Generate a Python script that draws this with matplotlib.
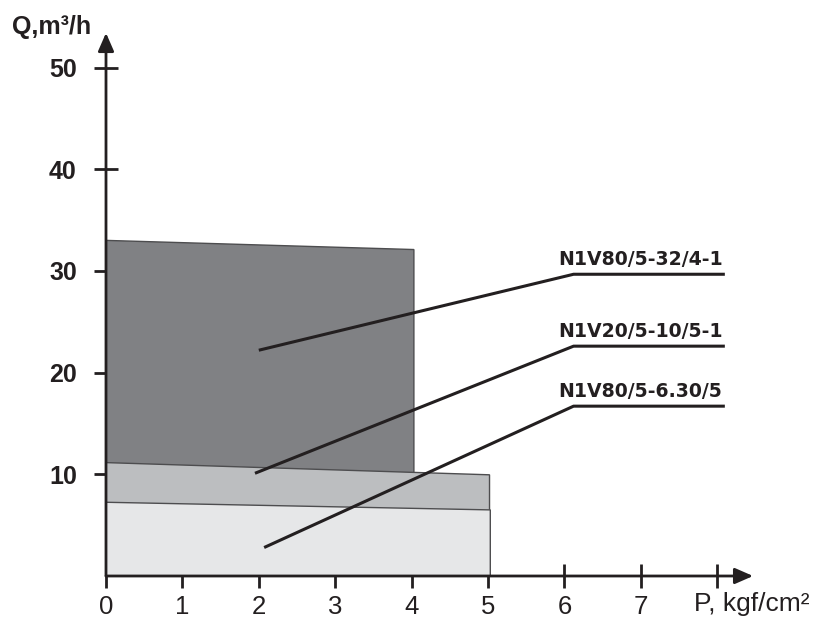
import matplotlib
matplotlib.use("Agg")
import matplotlib.pyplot as plt

# pump model areas: flow Q (m3/h) vs pressure P (kgf/cm2)
models     = ["N1V80/5-32/4-1", "N1V20/5-10/5-1", "N1V80/5-6.30/5"]
p_max      = [4.03, 5.02, 5.03]
q_at_zero  = [33.0, 11.15, 7.25]
q_at_pmax  = [32.1, 9.95, 6.5]
fills      = ["#808184", "#bcbec0", "#e6e7e8"]

# leader lines: point inside area -> elbow -> end of underline
lead_p     = [2.0, 1.95, 2.07]
lead_q     = [22.2, 10.1, 2.8]
elbow_p    = 6.12
elbow_q    = [29.67, 22.6, 16.7]
end_p      = 8.1

x_ticks    = [0, 1, 2, 3, 4, 5, 6, 7, 8]
x_labels   = ["0", "1", "2", "3", "4", "5", "6", "7", ""]
y_ticks    = [10, 20, 30, 40, 50]

W, H = 819, 619
ppu_x, ppu_y = 76.4, 10.17
x0_px, y0_px = 106, 576
xmax, ymax = 8.7, 54.5

fig = plt.figure(figsize=(W / 100, H / 100), dpi=100)
ax = fig.add_axes([x0_px / W, (H - y0_px) / H, ppu_x * xmax / W, ppu_y * ymax / H])
ax.set_xlim(0, xmax)
ax.set_ylim(0, ymax)
for s in ax.spines.values():
    s.set_visible(False)

ink = "#231f20"

for pm, qa, qb, fc in zip(p_max, q_at_zero, q_at_pmax, fills):
    ax.fill([0, 0, pm, pm], [0, qa, qb, 0], facecolor=fc, edgecolor="#4d4d4f", lw=1.0, zorder=2)

for lp, lq, eq, name in zip(lead_p, lead_q, elbow_q, models):
    ax.plot([lp, elbow_p, end_p], [lq, eq, eq], color=ink, lw=2.2, zorder=4, clip_on=False,
            solid_capstyle="butt")
    ax.annotate(name, xy=(end_p - 0.03, eq), xytext=(0, 4), textcoords="offset points",
                ha="right", va="bottom", fontsize=13.6, fontweight="bold",
                family="DejaVu Sans", color=ink, annotation_clip=False)

# axes with arrows
arrow = dict(arrowstyle="-|>,head_length=1.1,head_width=0.48", lw=2, color=ink,
             shrinkA=0, shrinkB=0, mutation_scale=10)
ax.annotate("", xy=(8.47, 0), xytext=(0, 0), arrowprops=arrow, annotation_clip=False, zorder=5)
ax.annotate("", xy=(0, 53.4), xytext=(0, 0), arrowprops=arrow, annotation_clip=False, zorder=5)

ax.set_xticks(x_ticks)
ax.set_xticklabels(x_labels, family="Liberation Sans", fontsize=18.5)
ax.set_yticks(y_ticks)
ax.set_yticklabels([str(v) for v in y_ticks], family="Liberation Sans", fontsize=18,
                   fontweight="bold")
ax.tick_params(axis="both", direction="inout", length=17, width=2, color=ink, labelcolor=ink)
ax.tick_params(axis="x", pad=5)
ax.tick_params(axis="y", pad=12.5)
for t in ax.xaxis.get_major_ticks() + ax.yaxis.get_major_ticks():
    t.tick1line.set_zorder(6)

ax.text(-1.23, 53.3, "Q,m³/h", ha="left", va="baseline", family="Liberation Sans",
        fontsize=18, fontweight="bold", color=ink, clip_on=False)
ax.annotate("P, kgf/cm²", xy=(8.45, 0), xytext=(0, -25.5), textcoords="offset points",
            ha="center", va="baseline", family="Liberation Sans", fontsize=19, color=ink,
            annotation_clip=False)

fig.savefig("out.png", dpi=100)
